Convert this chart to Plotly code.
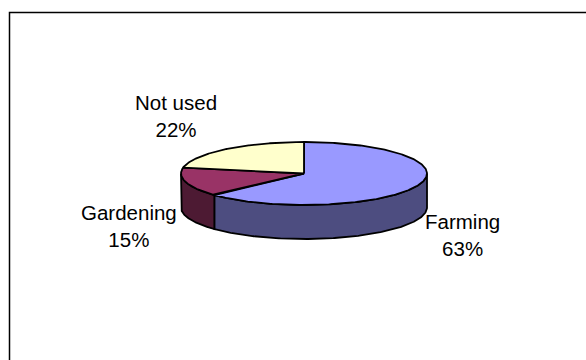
import numpy as np
import plotly.graph_objects as go

# ---- data ----
categories = ["Farming", "Gardening", "Not used"]
values = [63, 15, 22]
top_colors = ["#9999FF", "#993366", "#FFFFCC"]
side_colors = ["#4D4D80", "#4D1A33", "#80806A"]

# ---- layout / geometry (pixels) ----
W, H = 586, 360
CX, CY = 304.0, 173.5      # centre of top ellipse
RA, RB = 123.0, 31.5       # semi-axes
DEPTH = 34.0
label_pos = [(462.5, 235.0), (129.0, 225.5), (175.5, 116.0)]
FONT = dict(family="Liberation Sans, Arial, sans-serif", size=20.5, color="black")
LINE = dict(color="black", width=1.8)


def pt(theta_deg, dy=0.0):
    t = np.radians(theta_deg)
    return CX + RA * np.sin(t), CY - RB * np.cos(t) + dy


total = float(sum(values))
fracs = [v / total for v in values]
starts = np.concatenate([[0.0], np.cumsum(fracs)[:-1]]) * 360.0
ends = np.cumsum(fracs) * 360.0

fig = go.Figure()

# sides (front half: 90..270 degrees clockwise from top)
for i in range(len(values)):
    s, e = max(starts[i], 90.0), min(ends[i], 270.0)
    if e <= s:
        continue
    th = np.linspace(s, e, 200)
    xt, yt = pt(th)
    xb, yb = pt(th[::-1], DEPTH)
    xs = np.concatenate([xt, xb, [xt[0]]])
    ys = np.concatenate([yt, yb, [yt[0]]])
    fig.add_trace(go.Scatter(x=xs, y=ys, mode="lines", fill="toself",
                             fillcolor=side_colors[i], line=LINE,
                             hoverinfo="skip"))

# top faces
for i in range(len(values)):
    th = np.linspace(starts[i], ends[i], 300)
    xa, ya = pt(th)
    xs = np.concatenate([[CX], xa, [CX]])
    ys = np.concatenate([[CY], ya, [CY]])
    fig.add_trace(go.Scatter(x=xs, y=ys, mode="lines", fill="toself",
                             fillcolor=top_colors[i], line=LINE,
                             hoverinfo="skip"))

# labels
for i, c in enumerate(categories):
    pct = round(fracs[i] * 100)
    fig.add_annotation(x=label_pos[i][0], y=label_pos[i][1],
                       text=f"{c}<br>{pct}%", showarrow=False,
                       xanchor="center", yanchor="middle", font=FONT,
                       align="center")

# chart area border (extends past right/bottom edges)
fig.add_shape(type="path", xref="x", yref="y",
              path="M 9.5 380 L 9.5 12.5 L 600 12.5",
              line=dict(color="black", width=1.5))

fig.update_layout(
    width=W, height=H, margin=dict(l=0, r=0, t=0, b=0),
    paper_bgcolor="white", plot_bgcolor="white", showlegend=False,
    xaxis=dict(range=[0, W], visible=False, fixedrange=True),
    yaxis=dict(range=[H, 0], visible=False, fixedrange=True),
)

fig.write_html("out.html")
